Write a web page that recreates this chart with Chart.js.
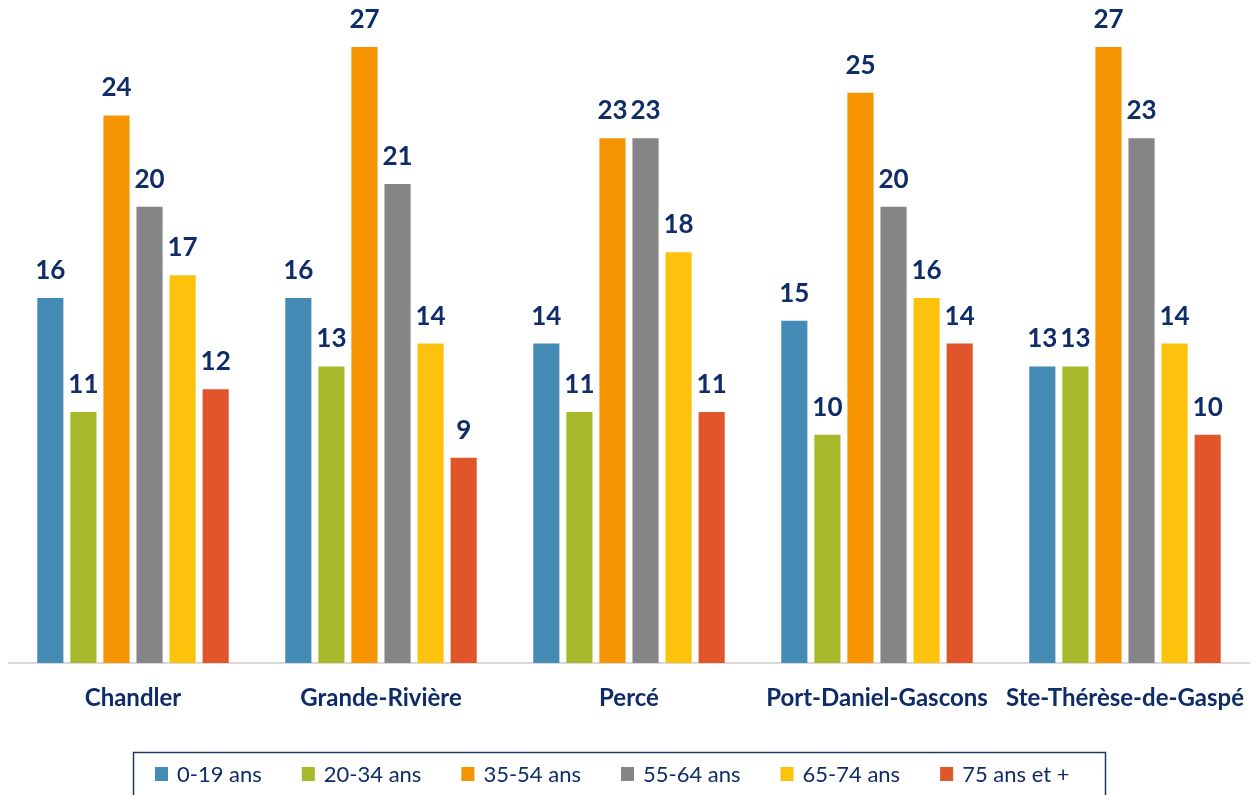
<!DOCTYPE html>
<html>
<head>
<meta charset="utf-8">
<script src="https://cdn.jsdelivr.net/npm/chart.js@4.4.1/dist/chart.umd.min.js"></script>
<style>
  html, body { margin: 0; padding: 0; background: #ffffff; }
  #wrap { width: 1259px; height: 795px; position: relative; }
</style>
</head>
<body>
<div id="wrap"><canvas id="c" width="1259" height="795"></canvas></div>
<script>
const categories = ["Chandler", "Grande-Rivière", "Percé", "Port-Daniel-Gascons", "Ste-Thérèse-de-Gaspé"];
const seriesNames = ["0-19 ans", "20-34 ans", "35-54 ans", "55-64 ans", "65-74 ans", "75 ans et +"];
const age0_19  = [16, 16, 14, 15, 13];
const age20_34 = [11, 13, 11, 10, 13];
const age35_54 = [24, 27, 23, 25, 27];
const age55_64 = [20, 21, 23, 20, 23];
const age65_74 = [17, 14, 18, 16, 14];
const age75p   = [12, 9, 11, 14, 10];
const seriesValues = [age0_19, age20_34, age35_54, age55_64, age65_74, age75p];
const seriesColors = ["#448bb5", "#a9b92c", "#f59300", "#858585", "#fdc20b", "#e05529"];

const NAVY = "#0e2c67";
const FONT = "Lato, 'Open Sans', 'DejaVu Sans', sans-serif";

const valueLabels = {
  id: "valueLabels",
  afterDatasetsDraw(chart) {
    const ctx = chart.ctx;
    ctx.save();
    ctx.fillStyle = NAVY;
    ctx.font = "bold 26px " + FONT;
    ctx.textAlign = "center";
    ctx.textBaseline = "alphabetic";
    chart.data.datasets.forEach((ds, i) => {
      const meta = chart.getDatasetMeta(i);
      meta.data.forEach((el, j) => {
        ctx.fillText(String(ds.data[j]), el.x, el.y - 19);
      });
    });
    ctx.restore();
  }
};

const boxedLegend = {
  id: "boxedLegend",
  afterDraw(chart) {
    const ctx = chart.ctx;
    ctx.save();
    ctx.strokeStyle = "#1f3864";
    ctx.lineWidth = 1.5;
    ctx.strokeRect(133.5, 752.5, 972, 80);
    ctx.font = "22px " + FONT;
    ctx.textBaseline = "middle";
    ctx.textAlign = "left";
    let x = 155;
    const yc = 774;
    chart.data.datasets.forEach((ds) => {
      ctx.fillStyle = ds.backgroundColor;
      ctx.fillRect(x, yc - 7, 13, 14);
      ctx.fillStyle = NAVY;
      ctx.fillText(ds.label, x + 22, yc + 1);
      x += 22 + ctx.measureText(ds.label).width + 40;
    });
    ctx.restore();
  }
};

new Chart(document.getElementById("c"), {
  type: "bar",
  data: {
    labels: categories,
    datasets: seriesNames.map((n, i) => ({
      label: n,
      data: seriesValues[i],
      backgroundColor: seriesColors[i],
      borderWidth: 0,
      categoryPercentage: 0.8,
      barPercentage: 0.79
    }))
  },
  options: {
    responsive: false,
    animation: false,
    devicePixelRatio: 1,
    layout: { padding: { left: 9, right: 10, top: 0, bottom: 0 } },
    plugins: { legend: { display: false }, tooltip: { enabled: false } },
    scales: {
      y: { display: false, min: 0, max: 29.06 },
      x: {
        grid: { display: false, drawTicks: false },
        border: { display: true, color: "#d9d9d9", width: 2 },
        ticks: { color: NAVY, font: { family: FONT, size: 24, weight: "bold" }, padding: 21, maxRotation: 0, autoSkip: false },
        afterFit(scale) { scale.height = 132; scale.paddingLeft = 0; scale.paddingRight = 0; }
      }
    }
  },
  plugins: [valueLabels, boxedLegend]
});
</script>
</body>
</html>
